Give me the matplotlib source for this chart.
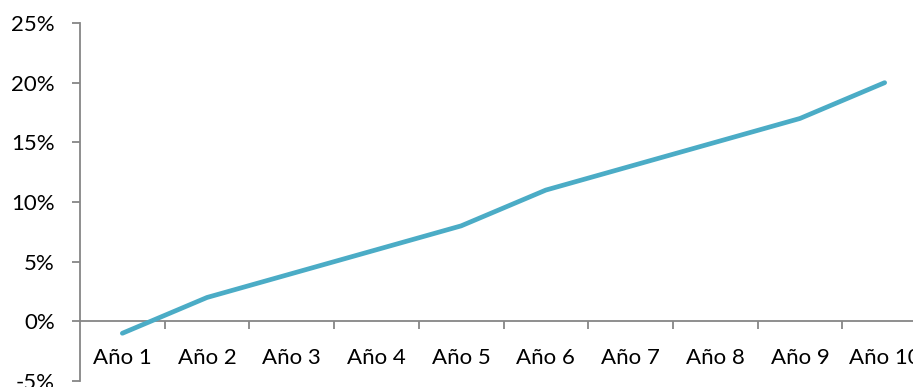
import numpy as np
import matplotlib
matplotlib.use('Agg')
import matplotlib.pyplot as plt
from matplotlib.ticker import FuncFormatter, FixedLocator

anios = ['Año 1', 'Año 2', 'Año 3', 'Año 4', 'Año 5',
         'Año 6', 'Año 7', 'Año 8', 'Año 9', 'Año 10']
rentabilidad = [-1, 2, 4, 6, 8, 11, 13, 15, 17, 20]  # en %
y_ticks = [-5, 0, 5, 10, 15, 20, 25]

plt.rcParams['font.family'] = ['Lato', 'DejaVu Sans']

fig = plt.figure(figsize=(9.13, 3.87), dpi=100)
ax = fig.add_axes([80 / 913, 6 / 387, 847 / 913, 358 / 387])

x = np.arange(len(anios)) + 0.5
ax.plot(x, np.array(rentabilidad) / 100, color='#4BACC6', lw=3.4,
        solid_capstyle='round', solid_joinstyle='round', zorder=3)

ax.set_xlim(0, len(anios))
ax.set_ylim(-0.05, 0.25)

gris = '#868686'
for s in ['top', 'right']:
    ax.spines[s].set_visible(False)
ax.spines['left'].set_color(gris)
ax.spines['bottom'].set_color(gris)
ax.spines['left'].set_linewidth(1.3)
ax.spines['bottom'].set_linewidth(1.3)
ax.spines['bottom'].set_position(('data', 0))

ax.set_yticks(np.array(y_ticks) / 100)
ax.yaxis.set_major_formatter(FuncFormatter(lambda v, p: f'{round(v * 100)}%'))
ax.tick_params(axis='y', length=6, width=1.3, color=gris, pad=12,
               labelsize=16, labelcolor='black')

# etiquetas centradas en cada categoría, marcas en los límites
ax.set_xticks(x)
ax.set_xticklabels(anios)
ax.xaxis.set_minor_locator(FixedLocator(np.arange(1, len(anios) + 1)))
ax.tick_params(axis='x', which='major', length=0, pad=19,
               labelsize=16, labelcolor='black')
ax.tick_params(axis='x', which='minor', length=6, width=1.3, color=gris,
               direction='out')

fig.savefig('out.png', dpi=100)
